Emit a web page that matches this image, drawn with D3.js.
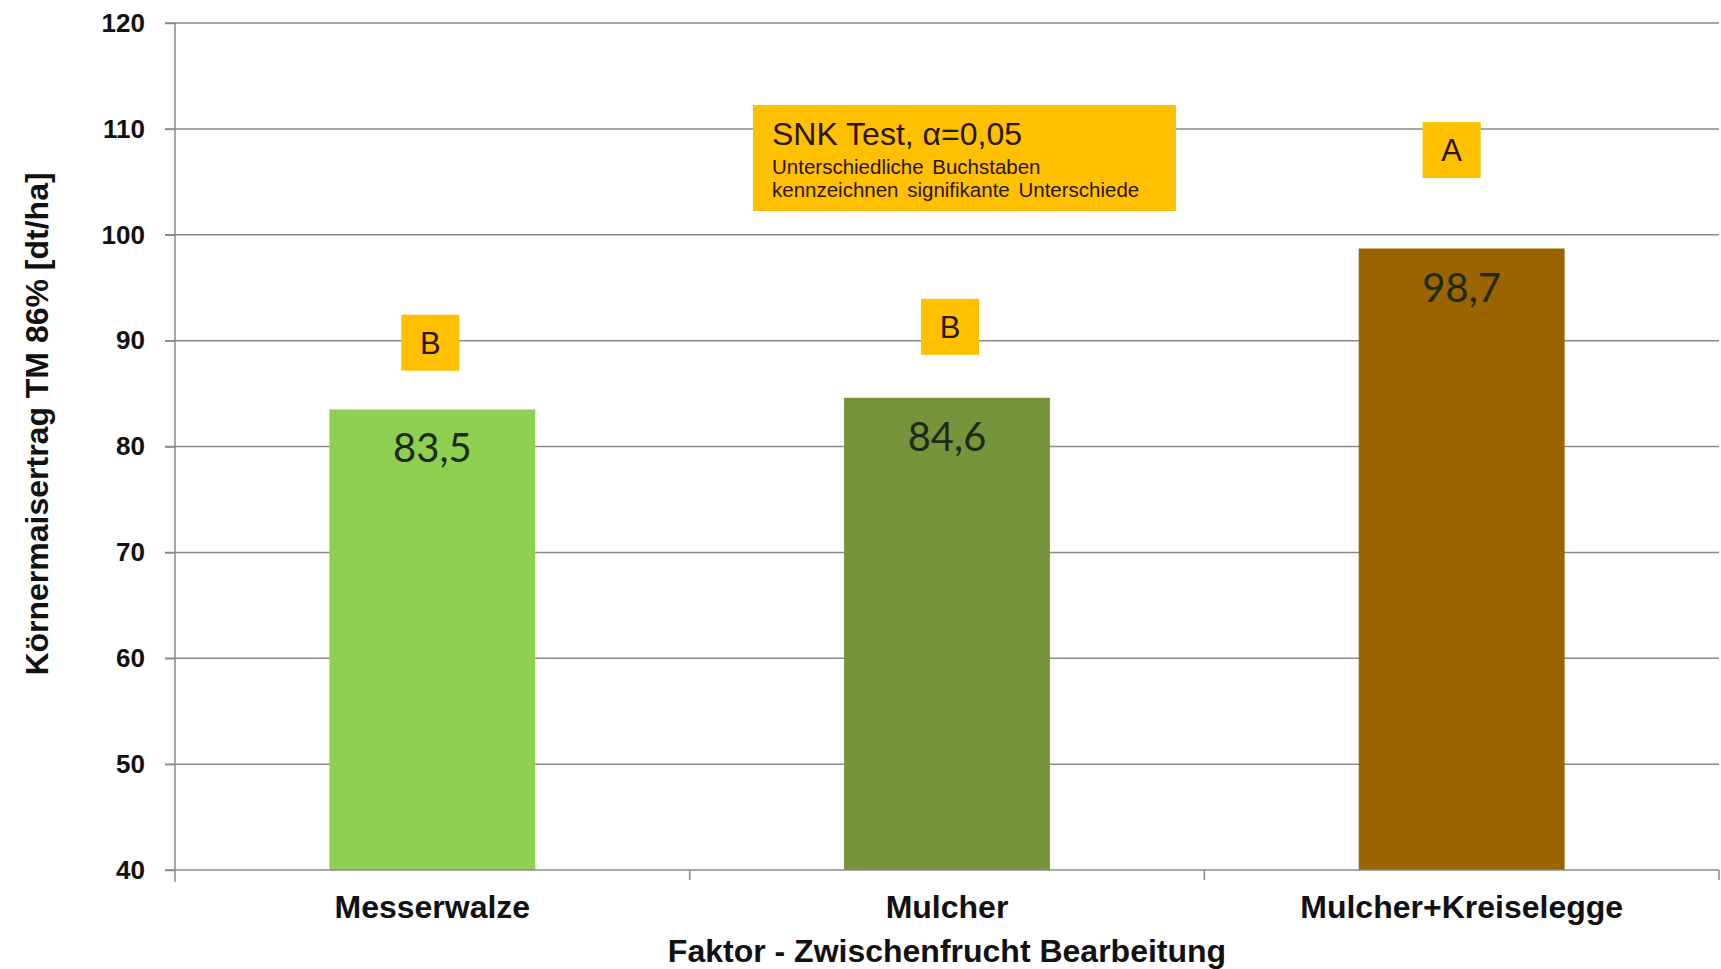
<!DOCTYPE html>
<html>
<head>
<meta charset="utf-8">
<script src="https://cdn.jsdelivr.net/npm/d3@7"></script>
<style>
  html, body { margin: 0; padding: 0; background: #ffffff; }
  svg { display: block; }
</style>
</head>
<body>
<svg id="chart" width="1721" height="969"></svg>
<script>
// Grain maize yield by intercrop tillage treatment
const categories = ["Messerwalze", "Mulcher", "Mulcher+Kreiselegge"];
const yields = [83.5, 84.6, 98.7];
const barColors = ["#8fd050", "#77933c", "#9b6400"];
// SNK significance letters and the height (in dt/ha) at which each sits
const letters = ["B", "B", "A"];
const letterLevels = [89.8, 91.3, 108.0];
const yTicks = [40, 50, 60, 70, 80, 90, 100, 110, 120];

const yTitle = "Körnermaisertrag TM 86% [dt/ha]";
const xTitle = "Faktor - Zwischenfrucht Bearbeitung";
const noteTitle = "SNK Test, α=0,05";
const noteLines = ["Unterschiedliche Buchstaben", "kennzeichnen signifikante Unterschiede"];

const svg = d3.select("#chart");
const plotLeft = 175, plotRight = 1719, plotTop = 23, plotBottom = 870;
const sans = "'Liberation Sans', Arial, sans-serif";
const gold = "#ffc000";
const darkText = "#2b1408";
const gridColor = "#8a8a8a";
// hand-placed horizontal shift of each letter box (px)
const letterShift = [-2, 3, -10];

const x = d3.scaleBand()
  .domain(categories)
  .range([plotLeft, plotRight])
  .paddingInner(0.6)
  .paddingOuter(0.3);

const y = d3.scaleLinear().domain([40, 120]).range([plotBottom, plotTop]);

// Horizontal gridlines
svg.append("g")
  .selectAll("line")
  .data(yTicks.filter(d => d > 40))
  .join("line")
  .attr("x1", plotLeft - 10)
  .attr("x2", plotRight)
  .attr("y1", d => y(d))
  .attr("y2", d => y(d))
  .attr("stroke", gridColor)
  .attr("stroke-width", 1.5);

// Bars
svg.append("g")
  .selectAll("rect")
  .data(categories)
  .join("rect")
  .attr("x", d => x(d))
  .attr("width", x.bandwidth())
  .attr("y", (d, i) => y(yields[i]))
  .attr("height", (d, i) => y(40) - y(yields[i]))
  .attr("fill", (d, i) => barColors[i]);

// Value labels inside bar tops
svg.append("g")
  .selectAll("text")
  .data(categories)
  .join("text")
  .attr("x", d => x(d) + x.bandwidth() / 2)
  .attr("y", (d, i) => y(yields[i]) + 53)
  .attr("text-anchor", "middle")
  .attr("font-family", "Lato, 'Open Sans', sans-serif")
  .attr("font-size", 40)
  .attr("fill", "#1e2a14")
  .text((d, i) => d3.format(".1f")(yields[i]).replace(".", ","));

// Y axis
const yAxis = svg.append("g")
  .attr("transform", `translate(${plotLeft},0)`)
  .call(d3.axisLeft(y).tickValues(yTicks).tickSize(10).tickPadding(20).tickFormat(d3.format("d")));
yAxis.select(".domain").attr("stroke", gridColor).attr("stroke-width", 1.5)
  .attr("d", `M0,${plotTop}V${plotBottom + 12}`);
yAxis.selectAll(".tick line").attr("stroke", gridColor).attr("stroke-width", 1.5);
yAxis.selectAll(".tick text")
  .attr("font-family", sans)
  .attr("font-weight", "bold")
  .attr("font-size", 26)
  .attr("fill", "#111");

// X axis with boundary ticks between categories
const xAxis = svg.append("g").attr("transform", `translate(0,${plotBottom})`);
xAxis.append("line")
  .attr("x1", plotLeft - 10).attr("x2", plotRight)
  .attr("stroke", gridColor).attr("stroke-width", 1.5);
const bounds = categories.map(c => x(c) - x.step() * x.paddingInner() / 2).concat([plotRight]);
xAxis.selectAll("line.b")
  .data(bounds.slice(1))
  .join("line")
  .attr("class", "b")
  .attr("x1", d => d).attr("x2", d => d)
  .attr("y1", 0).attr("y2", 10)
  .attr("stroke", gridColor).attr("stroke-width", 1.5);
xAxis.selectAll("text")
  .data(categories)
  .join("text")
  .attr("x", d => x(d) + x.bandwidth() / 2)
  .attr("y", 48)
  .attr("text-anchor", "middle")
  .attr("font-family", sans)
  .attr("font-weight", "bold")
  .attr("font-size", 32)
  .attr("fill", "#111")
  .text(d => d);

// Axis titles
svg.append("text")
  .attr("x", 947)
  .attr("y", 962)
  .attr("text-anchor", "middle")
  .attr("font-family", sans)
  .attr("font-weight", "bold")
  .attr("font-size", 32)
  .attr("fill", "#111")
  .text(xTitle);

svg.append("text")
  .attr("transform", "translate(48,424) rotate(-90)")
  .attr("text-anchor", "middle")
  .attr("font-family", sans)
  .attr("font-weight", "bold")
  .attr("font-size", 32)
  .attr("fill", "#111")
  .text(yTitle);

// Significance letter boxes
const lg = svg.append("g")
  .selectAll("g")
  .data(categories)
  .join("g")
  .attr("transform", (d, i) => `translate(${x(d) + x.bandwidth() / 2 + letterShift[i]},${y(letterLevels[i])})`);
lg.append("rect")
  .attr("x", -29).attr("y", -28)
  .attr("width", 58).attr("height", 56)
  .attr("fill", gold);
lg.append("text")
  .attr("y", 11)
  .attr("text-anchor", "middle")
  .attr("font-family", sans)
  .attr("font-size", 31)
  .attr("fill", darkText)
  .text((d, i) => letters[i]);

// SNK test note
const note = svg.append("g").attr("transform", "translate(753,105)");
note.append("rect").attr("width", 423).attr("height", 106).attr("fill", gold);
note.append("text")
  .attr("x", 19).attr("y", 40)
  .attr("font-family", sans)
  .attr("font-size", 32)
  .attr("fill", darkText)
  .text(noteTitle);
note.selectAll("text.sub")
  .data(noteLines)
  .join("text")
  .attr("class", "sub")
  .attr("x", 19)
  .attr("y", (d, i) => 69 + i * 23)
  .attr("font-family", sans)
  .attr("font-size", 20.5)
  .attr("word-spacing", 3)
  .attr("fill", darkText)
  .text(d => d);
</script>
</body>
</html>
